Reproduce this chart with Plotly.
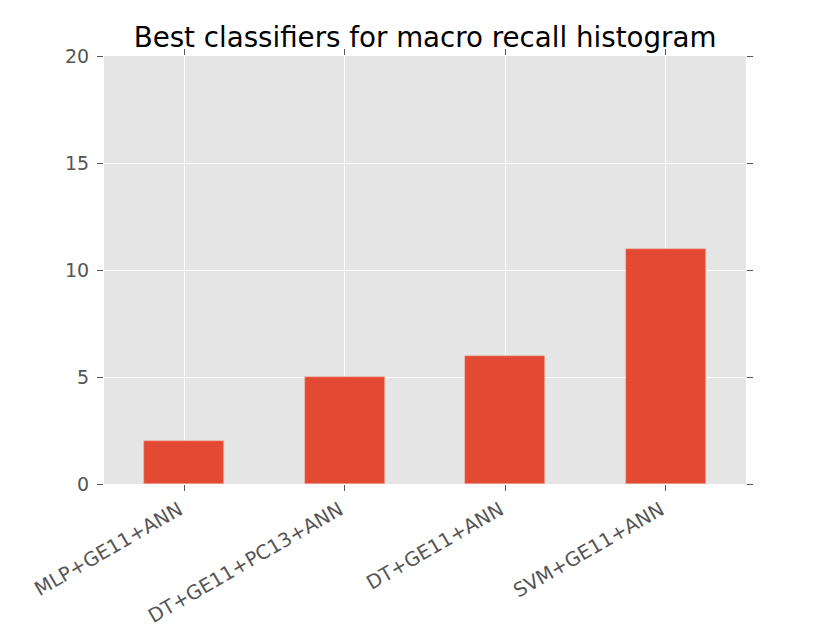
import plotly.graph_objects as go

categories = ["MLP+GE11+ANN", "DT+GE11+PC13+ANN", "DT+GE11+ANN", "SVM+GE11+ANN"]
counts = [2, 5, 6, 11]
y_ticks = [0, 5, 10, 15, 20]

FONT = "DejaVu Sans"
TICKC = "#555555"
W, H = 822, 626  # page body has an 8px default margin

fig = go.Figure()
fig.add_trace(go.Bar(
    x=list(range(len(categories))), y=counts, width=0.5,
    marker=dict(color="#E24A33", line=dict(color="#EDB7AD", width=0.6)),
    showlegend=False,
))
fig.add_trace(go.Scatter(x=[0], y=[0], xaxis="x2", yaxis="y2", mode="markers",
                         marker=dict(opacity=0), showlegend=False, hoverinfo="skip"))

fig.update_layout(
    width=W, height=H,
    margin=dict(l=96, r=84, t=48, b=150, autoexpand=False),
    paper_bgcolor="white", plot_bgcolor="#E5E5E5",
    font=dict(family=FONT, color=TICKC, size=18),
    title=dict(text="Best classifiers for macro recall histogram", x=0.5, xref="paper",
               xanchor="center", y=1 - 29 / H, yanchor="middle",
               font=dict(family=FONT, size=27.7, color="black")),
    xaxis=dict(range=[-0.5, len(categories) - 0.5], tickmode="array",
               tickvals=list(range(len(categories))), ticktext=categories,
               tickangle=-30, ticks="outside", ticklen=6, tickcolor=TICKC, tickwidth=1,
               showgrid=True, gridcolor="white", gridwidth=1, zeroline=False,
               showline=False, tickfont=dict(size=19.5, color=TICKC),
               ticklabelshift=-5, automargin=False),
    yaxis=dict(range=[0, 20], tickmode="array", tickvals=y_ticks,
               ticks="outside", ticklen=6, tickcolor=TICKC, tickwidth=1,
               showgrid=True, gridcolor="white", gridwidth=1, zeroline=False,
               showline=False, tickfont=dict(size=19, color=TICKC),
               ticklabelstandoff=4, automargin=False),
    xaxis2=dict(overlaying="x", side="top", range=[-0.5, len(categories) - 0.5],
                tickmode="array", tickvals=list(range(len(categories))),
                ticks="outside", ticklen=6, tickcolor=TICKC, showticklabels=False,
                showgrid=False, zeroline=False, showline=False, automargin=False),
    yaxis2=dict(overlaying="y", side="right", range=[0, 20], anchor="x",
                tickmode="array", tickvals=y_ticks,
                ticks="outside", ticklen=6, tickcolor=TICKC, showticklabels=False,
                showgrid=False, zeroline=False, showline=False, automargin=False),
    bargap=0,
)

fig.write_html("out.html")
